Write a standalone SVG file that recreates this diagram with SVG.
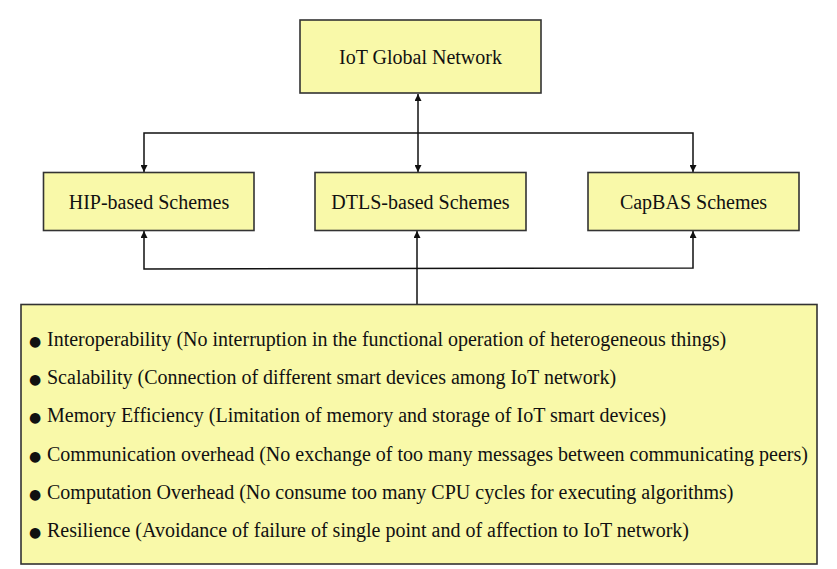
<svg xmlns="http://www.w3.org/2000/svg" width="837" height="569" viewBox="0 0 837 569">
<style>
.box{fill:#f9f9a9;stroke:#333;stroke-width:1.6}
.lbl{font-family:"Liberation Serif","Times New Roman",serif;font-size:20px;fill:#111}
.c{text-anchor:middle}
.conn{fill:none;stroke:#111;stroke-width:1.5}
.b{font-family:"DejaVu Sans",sans-serif;font-size:14px}
</style>
<defs>
<marker id="ah" viewBox="0 0 10 10" refX="10" refY="5" markerWidth="7" markerHeight="7" markerUnits="userSpaceOnUse" orient="auto-start-reverse">
<path d="M0,0 L10,5 L0,10 z" fill="#111"/>
</marker>
</defs>
<rect width="837" height="569" fill="#fff"/>
<g id="connectors">
<line class="conn" x1="418" y1="94" x2="418" y2="172" marker-start="url(#ah)" marker-end="url(#ah)"/>
<polyline class="conn" points="144,172 144,133 693,133 693,172" marker-start="url(#ah)" marker-end="url(#ah)"/>
<polyline class="conn" points="144,231 144,269 693,268 693,231" marker-start="url(#ah)" marker-end="url(#ah)"/>
<line class="conn" x1="417" y1="304" x2="417" y2="231" marker-end="url(#ah)"/>
</g>
<g id="iot-global">
<rect class="box" x="300" y="20" width="241" height="73"/>
<text class="lbl c" x="420.5" y="64">IoT Global Network</text>
</g>
<g id="hip">
<rect class="box" x="43.5" y="172.5" width="210.5" height="58"/>
<text class="lbl c" x="149" y="209">HIP-based Schemes</text>
</g>
<g id="dtls">
<rect class="box" x="315" y="172.5" width="211" height="58"/>
<text class="lbl c" x="420.5" y="209">DTLS-based Schemes</text>
</g>
<g id="capbas">
<rect class="box" x="588" y="172.5" width="211" height="58"/>
<text class="lbl c" x="693.5" y="209">CapBAS Schemes</text>
</g>
<g id="requirements">
<rect class="box" x="21" y="304.5" width="796" height="259.5"/>
<text class="lbl" x="29" y="346"><tspan class="b">●</tspan><tspan x="47">Interoperability (No interruption in the functional operation of heterogeneous things)</tspan></text>
<text class="lbl" x="29" y="384.2"><tspan class="b">●</tspan><tspan x="47">Scalability (Connection of different smart devices among IoT network)</tspan></text>
<text class="lbl" x="29" y="422.4"><tspan class="b">●</tspan><tspan x="47">Memory Efficiency (Limitation of memory and storage of IoT smart devices)</tspan></text>
<text class="lbl" x="29" y="460.6"><tspan class="b">●</tspan><tspan x="47">Communication overhead (No exchange of too many messages between communicating peers)</tspan></text>
<text class="lbl" x="29" y="498.8"><tspan class="b">●</tspan><tspan x="47">Computation Overhead (No consume too many CPU cycles for executing algorithms)</tspan></text>
<text class="lbl" x="29" y="537"><tspan class="b">●</tspan><tspan x="47">Resilience (Avoidance of failure of single point and of affection to IoT network)</tspan></text>
</g>
</svg>
